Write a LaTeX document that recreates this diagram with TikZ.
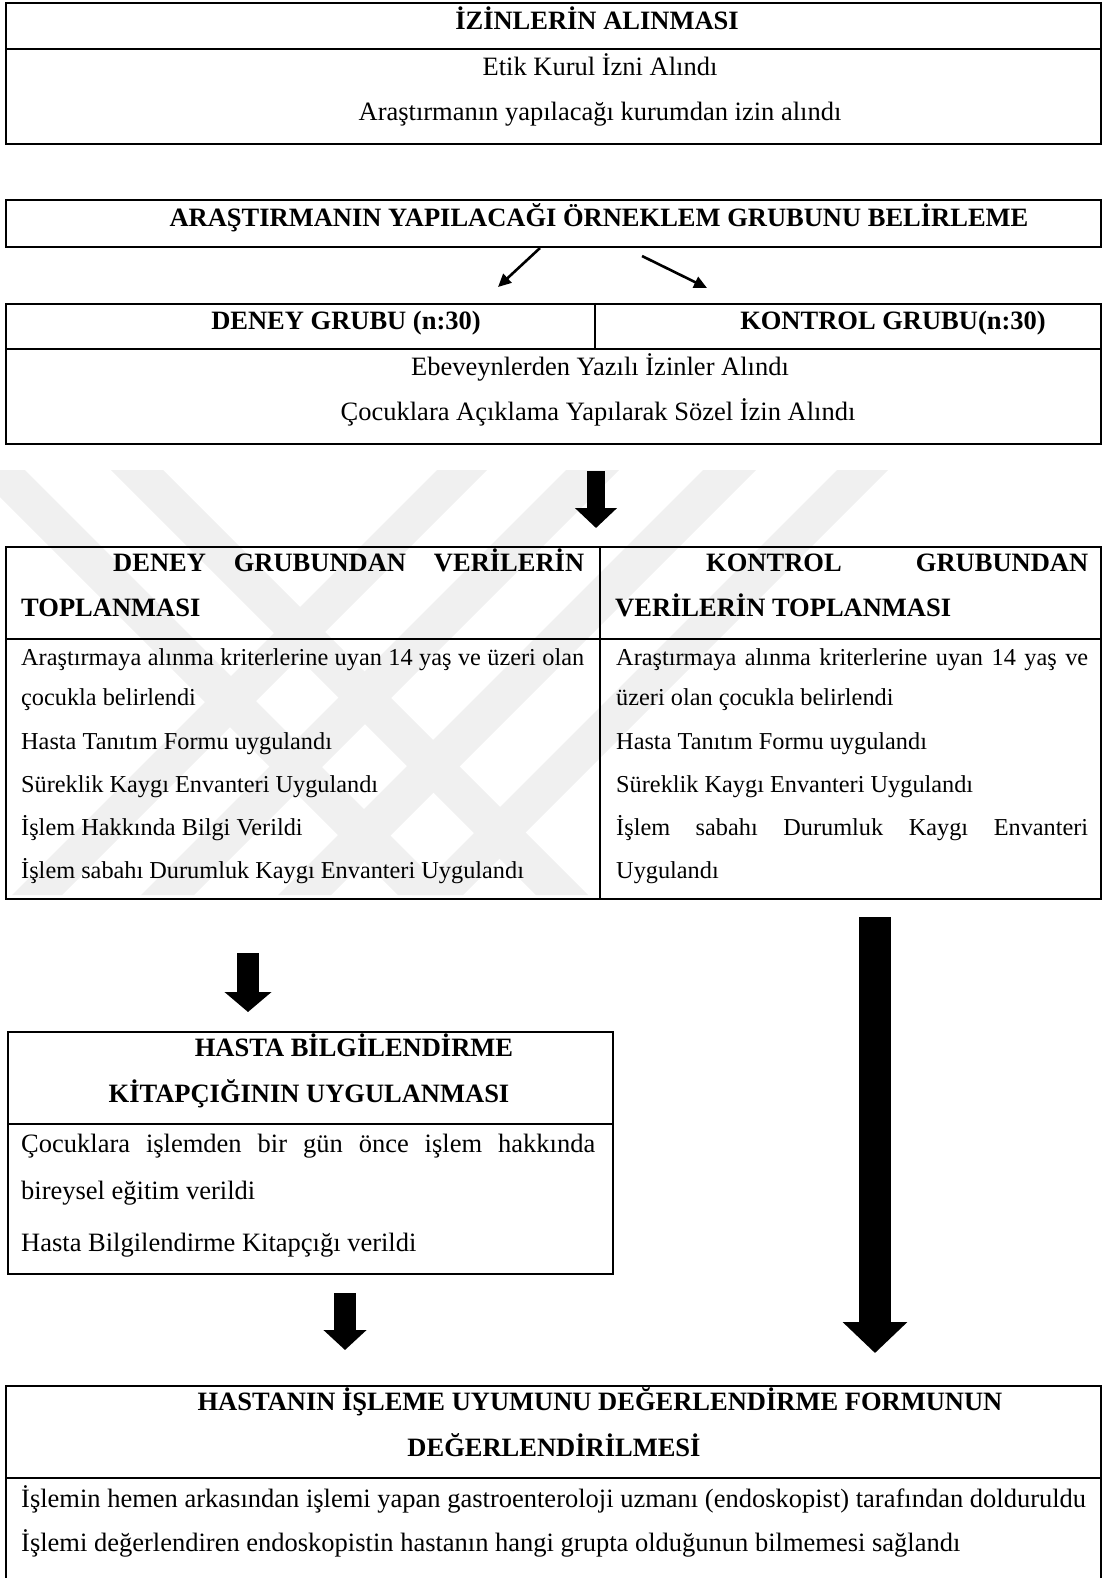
\documentclass[tikz,border=0pt]{standalone}
\usepackage{fontspec}
\setmainfont{Liberation Serif}
\usetikzlibrary{arrows.meta}
\newcommand\fsz{\fontsize{26.5}{32}\selectfont}
\newcommand\fss{\fontsize{24.3}{30}\selectfont}
\tikzset{
  box/.style={draw, line width=2.2pt, rectangle, inner sep=0pt, anchor=north west},
  hrule/.style={line width=2pt},
  vrule/.style={line width=1.4pt},
  tc/.style={inner sep=0pt, anchor=base, font=\fsz},
  tl/.style={inner sep=0pt, anchor=base west, font=\fsz},
  ts/.style={inner sep=0pt, anchor=base west, font=\fss},
  tcb/.style={inner sep=0pt, anchor=base, font=\fsz\bfseries},
  tlb/.style={inner sep=0pt, anchor=base west, font=\fsz\bfseries},
  wm/.style={fill=black!6, draw=none},
  thinarrow/.style={line width=2.6pt, -{Triangle[length=13pt,width=12pt]}},
}
\begin{document}
\begin{tikzpicture}[x=1pt,y=-1pt]
\useasboundingbox (0,0) rectangle (1103,1578);

% faint watermark (diagonal bands)
\begin{scope}
\clip (0,470) rectangle (1103,895);
\fill[wm] (-27,470) -- (25,470) -- (450,895) -- (398,895) -- cycle;
\fill[wm] (111,470) -- (163,470) -- (588,895) -- (536,895) -- cycle;
\fill[wm] (437,470) -- (487,470) -- (62,895) -- (12,895) -- cycle;
\fill[wm] (566,470) -- (619,470) -- (194,895) -- (141,895) -- cycle;
\fill[wm] (703,470) -- (756,470) -- (331,895) -- (278,895) -- cycle;
\fill[wm] (837,470) -- (888,470) -- (463,895) -- (412,895) -- cycle;
\end{scope}

% ---------- box 1
\node[box, minimum width=1095pt, minimum height=141pt] (b1) at (5,2) {};
\coordinate (d1) at (0,49);
\draw[hrule] (b1.west |- d1) -- (b1.east |- d1);
\node[tcb] (t1) at (597,30) {İZİNLERİN ALINMASI};
\node[tc] (t1a) at (600,76) {Etik Kurul İzni Alındı};
\node[tc] (t1b) at (600,121) {Araştırmanın yapılacağı kurumdan izin alındı};

% ---------- box 2
\node[box, minimum width=1095pt, minimum height=47pt] (b2) at (5,199) {};
\node[tcb] (t2) at (599,227) {ARAŞTIRMANIN YAPILACAĞI ÖRNEKLEM GRUBUNU BELİRLEME};

% ---------- box 3
\node[box, minimum width=1095pt, minimum height=140pt] (b3) at (5,303) {};
\coordinate (d3) at (0,349);
\coordinate (v3) at (595,0);
\draw[hrule] (b3.west |- d3) -- (b3.east |- d3);
\draw[vrule] (v3 |- b3.north) -- (v3 |- d3);
\node[tcb] (t3a) at (346,330) {DENEY GRUBU (n:30)};
\node[tcb] (t3b) at (893,330) {KONTROL GRUBU(n:30)};
\node[tc] (t3c) at (600,375) {Ebeveynlerden Yazılı İzinler Alındı};
\node[tc] (t3d) at (598,420) {Çocuklara Açıklama Yapılarak Sözel İzin Alındı};

% arrows box2 -> box3
\coordinate (a1s) at (540,248);
\coordinate (a1e) at (498,287);
\coordinate (a2s) at (642,256);
\coordinate (a2e) at (707,288);
\draw[thinarrow] (a1s) -- (a1e);
\draw[thinarrow] (a2s) -- (a2e);

% ---------- box 4
\node[box, minimum width=1095pt, minimum height=352pt] (b4) at (5,546) {};
\coordinate (d4) at (0,639);
\coordinate (v4) at (600,0);
\draw[hrule] (b4.west |- d4) -- (b4.east |- d4);
\draw[vrule] (v4 |- b4.north) -- (v4 |- b4.south);
\node[tlb] (h4a) at (113,571) {\makebox[471pt][s]{DENEY GRUBUNDAN VERİLERİN}};
\node[tlb] (h4b) at (21,616) {TOPLANMASI};
\node[tlb] (h4c) at (706,571) {\makebox[382pt][s]{KONTROL GRUBUNDAN}};
\node[tlb] (h4d) at (615,616) {VERİLERİN TOPLANMASI};

\node[ts] (l1) at (21,665) {\makebox[563pt][s]{Araştırmaya alınma kriterlerine uyan 14 yaş ve üzeri olan}};
\node[ts] (l2) at (21,705) {çocukla belirlendi};
\node[ts] (l3) at (21,749) {Hasta Tanıtım Formu uygulandı};
\node[ts] (l4) at (21,792) {Süreklik Kaygı Envanteri Uygulandı};
\node[ts] (l5) at (21,835) {İşlem Hakkında Bilgi Verildi};
\node[ts] (l6) at (21,878) {İşlem sabahı Durumluk Kaygı Envanteri Uygulandı};

\node[ts] (r1) at (616,665) {\makebox[472pt][s]{Araştırmaya alınma kriterlerine uyan 14 yaş ve}};
\node[ts] (r2) at (616,705) {üzeri olan çocukla belirlendi};
\node[ts] (r3) at (616,749) {Hasta Tanıtım Formu uygulandı};
\node[ts] (r4) at (616,792) {Süreklik Kaygı Envanteri Uygulandı};
\node[ts] (r5) at (616,835) {\makebox[472pt][s]{İşlem sabahı Durumluk Kaygı Envanteri}};
\node[ts] (r6) at (616,878) {Uygulandı};

% arrow box3 -> box4
\coordinate (a3s) at (596,471);
\coordinate (a3e) at (596,528);
\draw[line width=18pt, -{Triangle[width=41pt,length=20pt]}] (a3s) -- (a3e);

% ---------- box 5
\node[box, minimum width=605pt, minimum height=242pt] (b5) at (7,1031) {};
\coordinate (d5) at (0,1124);
\draw[hrule] (b5.west |- d5) -- (b5.east |- d5);
\node[tcb] (t5a) at (354,1056) {HASTA BİLGİLENDİRME};
\node[tcb] (t5b) at (309,1102) {KİTAPÇIĞININ UYGULANMASI};
\node[tl] (t5c) at (21,1152) {\makebox[574pt][s]{Çocuklara işlemden bir gün önce işlem hakkında}};
\node[tl] (t5d) at (21,1199) {bireysel eğitim verildi};
\node[tl] (t5e) at (21,1251) {Hasta Bilgilendirme Kitapçığı verildi};

% arrow box4 -> box5
\coordinate (a4s) at (248,953);
\coordinate (a4e) at (248,1012);
\draw[line width=22pt, -{Triangle[width=46pt,length=20pt]}] (a4s) -- (a4e);

% ---------- box 6
\node[box, minimum width=1095pt, minimum height=215pt] (b6) at (5,1385) {};
\coordinate (d6) at (0,1478);
\draw[hrule] (b6.west |- d6) -- (b6.east |- d6);
\node[tcb] (t6a) at (600,1410) {HASTANIN İŞLEME UYUMUNU DEĞERLENDİRME FORMUNUN};
\node[tcb] (t6b) at (554,1456) {DEĞERLENDİRİLMESİ};
\node[tl] (t6c) at (21,1507) {İşlemin hemen arkasından işlemi yapan gastroenteroloji uzmanı (endoskopist) tarafından dolduruldu};
\node[tl] (t6d) at (21,1551) {İşlemi değerlendiren endoskopistin hastanın hangi grupta olduğunun bilmemesi sağlandı};

% arrow box5 -> box6
\coordinate (a5s) at (345,1293);
\coordinate (a5e) at (345,1350);
\draw[line width=22pt, -{Triangle[width=42pt,length=20pt]}] (a5s) -- (a5e);

% arrow box4 -> box6 (control group)
\coordinate (a6s) at (875,917);
\coordinate (a6e) at (875,1353);
\draw[line width=32pt, -{Triangle[width=63pt,length=31pt]}] (a6s) -- (a6e);
\end{tikzpicture}
\end{document}
